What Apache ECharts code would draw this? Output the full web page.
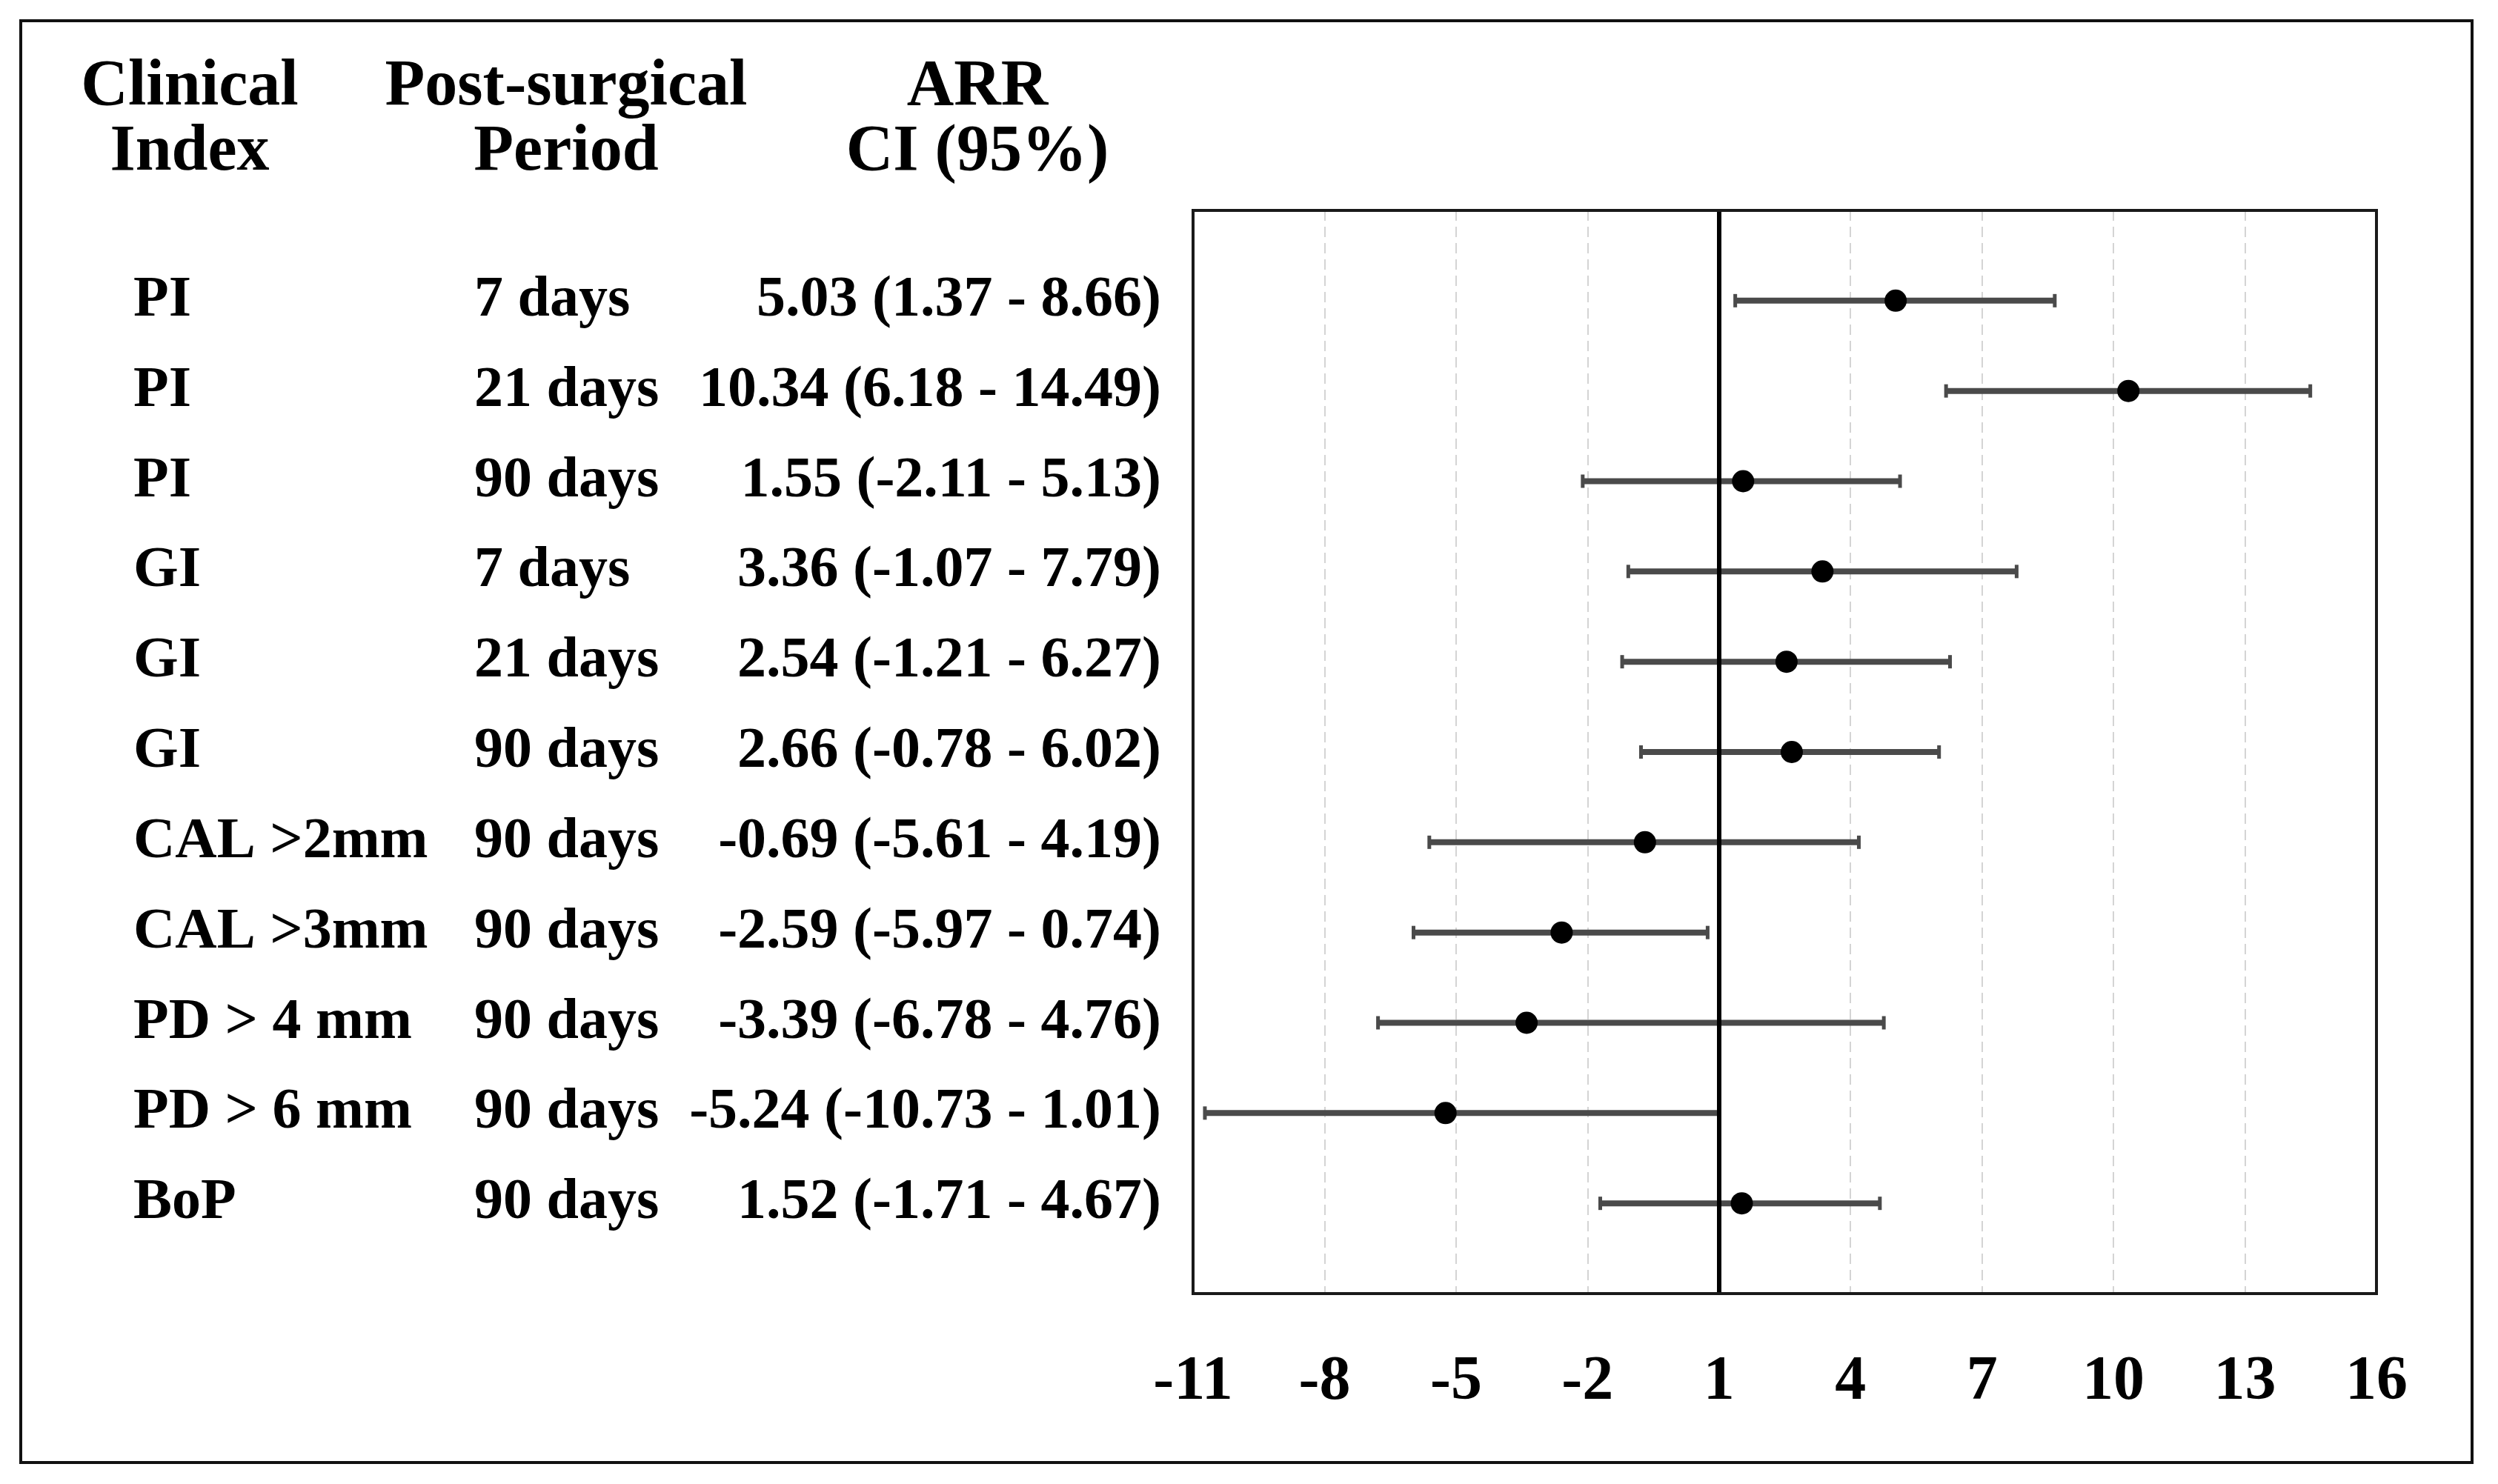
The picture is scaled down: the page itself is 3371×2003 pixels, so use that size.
<!DOCTYPE html>
<html><head><meta charset="utf-8">
<script src="https://cdn.jsdelivr.net/npm/echarts@6/dist/echarts.min.js"></script>
<style>html,body{margin:0;padding:0;background:#fff}#c{width:3371px;height:2003px}</style>
</head><body><div id="c"></div>
<script>
// ---- data ----
const indexLabels = ['PI','PI','PI','GI','GI','GI','CAL >2mm','CAL >3mm','PD > 4 mm','PD > 6 mm','BoP'];
const periods = ['7 days','21 days','90 days','7 days','21 days','90 days','90 days','90 days','90 days','90 days','90 days'];
const arr = [5.03,10.34,1.55,3.36,2.54,2.66,-0.69,-2.59,-3.39,-5.24,1.52];
const ciLow = [1.37,6.18,-2.11,-1.07,-1.21,-0.78,-5.61,-5.97,-6.78,-10.73,-1.71];
const ciHigh = [8.66,14.49,5.13,7.79,6.27,6.02,4.19,0.74,4.76,1.01,4.67];
const xMin = -11, xMax = 16, xStep = 3;
const refValue = 1;
const headers = [['Clinical','Index'],['Post-surgical','Period'],['ARR','CI (95%)']];

const FONT = '"Liberation Serif", "Times New Roman", serif';
const rowY = arr.map((_, i) => i + 1);
const fmt = v => v.toFixed(2);

const chart = echarts.init(document.getElementById('c'), null, {renderer:'canvas'});

function renderItem(params, api) {
  const p1 = api.coord([api.value(0), api.value(2)]);
  const p2 = api.coord([api.value(1), api.value(2)]);
  const h = 9;
  const st = {stroke:'#4a4a4a', lineWidth:8};
  const cap = {stroke:'#4a4a4a', lineWidth:5};
  return {type:'group', children:[
    {type:'line', shape:{x1:p1[0], y1:p1[1], x2:p2[0], y2:p2[1]}, style:st},
    {type:'line', shape:{x1:p1[0], y1:p1[1]-h, x2:p1[0], y2:p1[1]+h}, style:cap},
    {type:'line', shape:{x1:p2[0], y1:p2[1]-h, x2:p2[0], y2:p2[1]+h}, style:cap}
  ]};
}

const GRID = {left:1610, top:284, width:1597, height:1462};
const option = {
  backgroundColor:'#fff',
  animation:false,
  grid:Object.assign({show:false}, GRID),
  xAxis:{type:'value', min:xMin, max:xMax, interval:xStep,
    axisLine:{show:false}, axisTick:{show:false},
    splitLine:{show:true, showMinLine:false, showMaxLine:false, lineStyle:{color:'#d4d4d4', width:2, type:[14,8]}},
    axisLabel:{fontFamily:FONT, fontWeight:'bold', fontSize:84, color:'#000', margin:78}},
  yAxis:{type:'value', min:0, max:12, inverse:true, show:false},
  series:[
    {type:'custom', renderItem, silent:true, z:3,
     data: ciLow.map((l,i)=>[l, ciHigh[i], rowY[i]]),
     encode:{x:[0,1], y:2},
     markLine:{silent:true, symbol:['none','none'], label:{show:false},
       lineStyle:{color:'#000', width:6, type:'solid', opacity:1}, data:[{xAxis:refValue}]}},
    {type:'scatter', z:5, symbolSize:30, itemStyle:{color:'#000', opacity:1},
     data: arr.map((v,i)=>[v, rowY[i]])}
  ]
};
chart.setOption(option);

const g = [];
g.push({type:'rect', shape:{x:28, y:28, width:3308, height:1946}, style:{fill:'none', stroke:'#111', lineWidth:4}, z:10});
g.push({type:'rect', shape:{x:GRID.left, y:GRID.top, width:GRID.width, height:GRID.height}, style:{fill:'none', stroke:'#1a1a1a', lineWidth:4}, z:10});
const hx = [256, 764, 1319];
const hy = [118, 206];
headers.forEach((pair, c) => pair.forEach((t, r) => {
  g.push({type:'text', style:{text:t, x:hx[c], y:hy[r], align:'center', verticalAlign:'middle',
    font:'bold 88px ' + FONT, fill:'#000'}});
}));
rowY.forEach((v, i) => {
  const y = chart.convertToPixel({yAxisIndex:0}, v);
  const f = 'bold 78px ' + FONT;
  g.push({type:'text', style:{text:indexLabels[i], x:180, y, align:'left', verticalAlign:'middle', font:f, fill:'#000'}});
  g.push({type:'text', style:{text:periods[i], x:640, y, align:'left', verticalAlign:'middle', font:f, fill:'#000'}});
  g.push({type:'text', style:{text:`${fmt(arr[i])} (${fmt(ciLow[i])} - ${fmt(ciHigh[i])})`, x:1567, y, align:'right', verticalAlign:'middle', font:f, fill:'#000'}});
});
chart.setOption({graphic:g});
</script></body></html>
